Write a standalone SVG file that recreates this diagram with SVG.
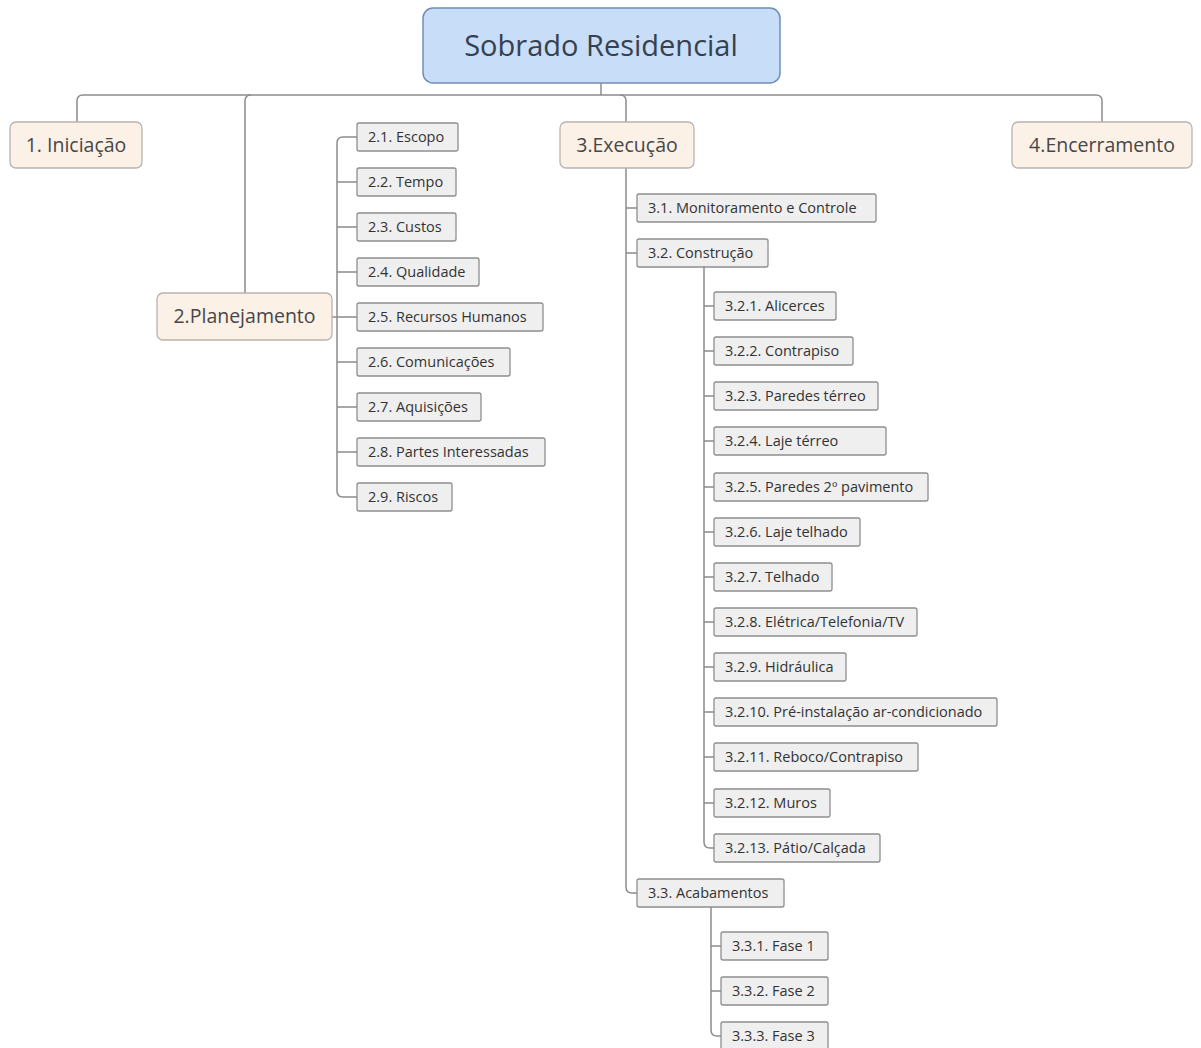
<svg xmlns="http://www.w3.org/2000/svg" width="1201" height="1048" viewBox="0 0 1201 1048">
<style>
.root{fill:#c8ddf8;stroke:#6f8db8;stroke-width:1.5}
.l1{fill:#fcf1e7;stroke:#b9b3ad;stroke-width:1.3}
.l2{fill:#efefef;stroke:#8e8e8e;stroke-width:1.3}
.t0{font-family:"Open Sans","DejaVu Sans",sans-serif;font-size:29px;fill:#36414f;text-anchor:middle}
.t1{font-family:"Open Sans","DejaVu Sans",sans-serif;font-size:19.5px;fill:#474747;text-anchor:middle}
.t2{font-family:"Open Sans","DejaVu Sans",sans-serif;font-size:14.5px;fill:#333}
.c{fill:none;stroke:#8c8c8c;stroke-width:1.5}
</style>
<rect width="1201" height="1048" fill="#ffffff"/>
<g id="connectors">
<path class="c" d="M601,83 V95"/>
<path class="c" d="M77,122 V101 Q77,95 83,95 H1096 Q1102,95 1102,101 V122"/>
<path class="c" d="M245,293 V101 Q245,95 251,95"/>
<path class="c" d="M620,95 Q626,95 626,101 V122"/>
<path class="c" d="M332,317 H337"/>
<path class="c" d="M357,137 H343 Q337,137 337,143 V491 Q337,497 343,497 H357"/>
<path class="c" d="M337,182 H357 M337,227 H357 M337,272 H357 M337,317 H357 M337,362 H357 M337,407 H357 M337,452 H357"/>
<path class="c" d="M626,168 V887 Q626,893 632,893 H637"/>
<path class="c" d="M626,208 H637 M626,253 H637"/>
<path class="c" d="M704,267 V842 Q704,848 710,848 H714"/>
<path class="c" d="M704,306 H714 M704,351 H714 M704,396 H714 M704,441 H714 M704,487 H714 M704,532 H714 M704,577 H714 M704,622 H714 M704,667 H714 M704,712 H714 M704,757 H714 M704,803 H714"/>
<path class="c" d="M711,907 V1030 Q711,1036 717,1036 H721"/>
<path class="c" d="M711,946 H721 M711,991 H721"/>
</g>
<g id="root"><rect class="root" x="423" y="8" width="357" height="75" rx="10"/><text class="t0" x="601" y="56">Sobrado Residencial</text></g>
<g id="n1"><rect class="l1" x="10" y="122" width="132" height="46" rx="6"/><text class="t1" x="76" y="152">1. Iniciação</text></g>
<g id="n2"><rect class="l1" x="157" y="293" width="175" height="47" rx="6"/><text class="t1" x="244.5" y="323">2.Planejamento</text></g>
<g id="n3"><rect class="l1" x="560" y="122" width="134" height="46" rx="6"/><text class="t1" x="627" y="152">3.Execução</text></g>
<g id="n4"><rect class="l1" x="1012" y="122" width="180" height="46" rx="6"/><text class="t1" x="1102" y="152">4.Encerramento</text></g>
<g id="n2_1"><rect class="l2" x="357" y="123" width="101" height="28" rx="2"/><text class="t2" x="368" y="142">2.1. Escopo</text></g>
<g id="n2_2"><rect class="l2" x="357" y="168" width="99" height="28" rx="2"/><text class="t2" x="368" y="187">2.2. Tempo</text></g>
<g id="n2_3"><rect class="l2" x="357" y="213" width="99" height="28" rx="2"/><text class="t2" x="368" y="232">2.3. Custos</text></g>
<g id="n2_4"><rect class="l2" x="357" y="258" width="122" height="28" rx="2"/><text class="t2" x="368" y="277">2.4. Qualidade</text></g>
<g id="n2_5"><rect class="l2" x="357" y="303" width="186" height="28" rx="2"/><text class="t2" x="368" y="322">2.5. Recursos Humanos</text></g>
<g id="n2_6"><rect class="l2" x="357" y="348" width="153" height="28" rx="2"/><text class="t2" x="368" y="367">2.6. Comunicações</text></g>
<g id="n2_7"><rect class="l2" x="357" y="393" width="124" height="28" rx="2"/><text class="t2" x="368" y="412">2.7. Aquisições</text></g>
<g id="n2_8"><rect class="l2" x="357" y="438" width="188" height="28" rx="2"/><text class="t2" x="368" y="457">2.8. Partes Interessadas</text></g>
<g id="n2_9"><rect class="l2" x="357" y="483" width="95" height="28" rx="2"/><text class="t2" x="368" y="502">2.9. Riscos</text></g>
<g id="n3_1"><rect class="l2" x="637" y="194" width="239" height="28" rx="2"/><text class="t2" x="648" y="213">3.1. Monitoramento e Controle</text></g>
<g id="n3_2"><rect class="l2" x="637" y="239" width="131" height="28" rx="2"/><text class="t2" x="648" y="258">3.2. Construção</text></g>
<g id="n3_2_1"><rect class="l2" x="714" y="292" width="122" height="28" rx="2"/><text class="t2" x="725" y="311">3.2.1. Alicerces</text></g>
<g id="n3_2_2"><rect class="l2" x="714" y="337" width="139" height="28" rx="2"/><text class="t2" x="725" y="356">3.2.2. Contrapiso</text></g>
<g id="n3_2_3"><rect class="l2" x="714" y="382" width="164" height="28" rx="2"/><text class="t2" x="725" y="401">3.2.3. Paredes térreo</text></g>
<g id="n3_2_4"><rect class="l2" x="714" y="427" width="172" height="28" rx="2"/><text class="t2" x="725" y="446">3.2.4. Laje térreo</text></g>
<g id="n3_2_5"><rect class="l2" x="714" y="473" width="214" height="28" rx="2"/><text class="t2" x="725" y="492">3.2.5. Paredes 2º pavimento</text></g>
<g id="n3_2_6"><rect class="l2" x="714" y="518" width="146" height="28" rx="2"/><text class="t2" x="725" y="537">3.2.6. Laje telhado</text></g>
<g id="n3_2_7"><rect class="l2" x="714" y="563" width="118" height="28" rx="2"/><text class="t2" x="725" y="582">3.2.7. Telhado</text></g>
<g id="n3_2_8"><rect class="l2" x="714" y="608" width="203" height="28" rx="2"/><text class="t2" x="725" y="627">3.2.8. Elétrica/Telefonia/TV</text></g>
<g id="n3_2_9"><rect class="l2" x="714" y="653" width="132" height="28" rx="2"/><text class="t2" x="725" y="672">3.2.9. Hidráulica</text></g>
<g id="n3_2_10"><rect class="l2" x="714" y="698" width="283" height="28" rx="2"/><text class="t2" x="725" y="717">3.2.10. Pré-instalação ar-condicionado</text></g>
<g id="n3_2_11"><rect class="l2" x="714" y="743" width="204" height="28" rx="2"/><text class="t2" x="725" y="762">3.2.11. Reboco/Contrapiso</text></g>
<g id="n3_2_12"><rect class="l2" x="714" y="789" width="116" height="28" rx="2"/><text class="t2" x="725" y="808">3.2.12. Muros</text></g>
<g id="n3_2_13"><rect class="l2" x="714" y="834" width="166" height="28" rx="2"/><text class="t2" x="725" y="853">3.2.13. Pátio/Calçada</text></g>
<g id="n3_3"><rect class="l2" x="637" y="879" width="147" height="28" rx="2"/><text class="t2" x="648" y="898">3.3. Acabamentos</text></g>
<g id="n3_3_1"><rect class="l2" x="721" y="932" width="107" height="28" rx="2"/><text class="t2" x="732" y="951">3.3.1. Fase 1</text></g>
<g id="n3_3_2"><rect class="l2" x="721" y="977" width="107" height="28" rx="2"/><text class="t2" x="732" y="996">3.3.2. Fase 2</text></g>
<g id="n3_3_3"><rect class="l2" x="721" y="1022" width="107" height="28" rx="2"/><text class="t2" x="732" y="1041">3.3.3. Fase 3</text></g>
</svg>
